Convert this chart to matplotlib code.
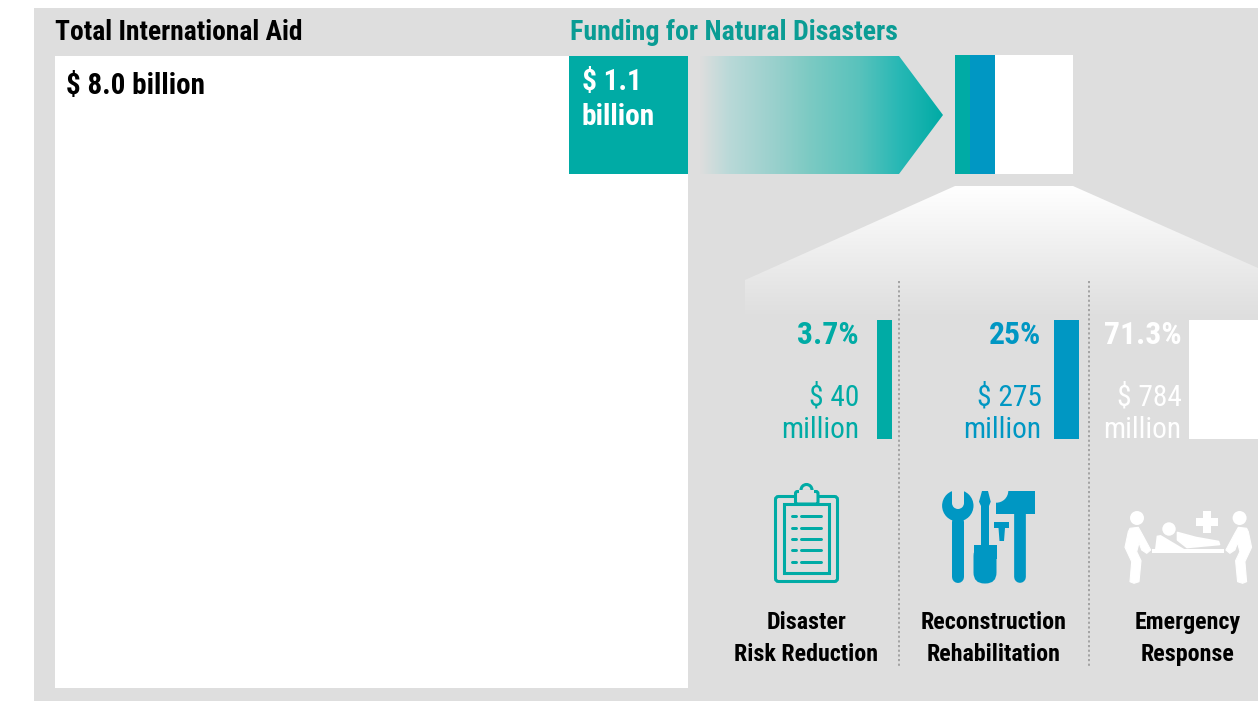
import numpy as np
import matplotlib
matplotlib.use('Agg')
import matplotlib.pyplot as plt
from matplotlib.colors import LinearSegmentedColormap
from matplotlib.patches import Circle, FancyBboxPatch, Polygon, Rectangle

plt.rcParams['font.family'] = 'Roboto Condensed'

TEAL = '#00ABA5'
TEAL_DARK = '#0A9C94'
BLUE = '#0097C3'
GREY = '#DEDEDE'

# Funding totals, in billions
total_aid = 8.0
disaster_funding = 1.1

# Breakdown of the disaster funding
categories = [['Disaster', 'Risk Reduction'], ['Reconstruction', 'Rehabilitation'], ['Emergency', 'Response']]
shares = [3.7, 25, 71.3]
amounts = [40, 275, 784]
share_labels = ['3.7%', '25%', '71.3%']
amount_labels = ['$ 40', '$ 275', '$ 784']

fig = plt.figure(figsize=(12.58, 7.02), dpi=100)
ax = fig.add_axes([0, 0, 1, 1])
ax.set_xlim(0, 1258)
ax.set_ylim(702, 0)
ax.axis('off')


# The graphic uses eased widths so the small shares stay readable
def share_width(share):
    return np.interp(share, [3.7, 25, 71.3], [15, 25.3, 78])


def square_side(value):
    return np.interp(value, [1.1, 8.0], [118.6, 632.6])


def rect(x, y, w, h, color, zorder=2):
    ax.add_patch(Rectangle((x, y), w, h, facecolor=color, edgecolor='none', zorder=zorder))


def gradient(colors, extent, clip_points, horizontal, stops=None):
    cmap = LinearSegmentedColormap.from_list('fade', colors if stops is None else list(zip(stops, colors)))
    ramp = np.linspace(0, 1, 256)
    ramp = ramp.reshape(1, -1) if horizontal else ramp.reshape(-1, 1)
    im = ax.imshow(ramp, cmap=cmap, extent=extent, aspect='auto', zorder=1, interpolation='bilinear')
    clip = Polygon(clip_points, closed=True, transform=ax.transData, facecolor='none', edgecolor='none')
    ax.add_patch(clip)
    im.set_clip_path(clip)


def thick_line(xs, ys, color, width, zorder=3):
    ax.plot(xs, ys, color=color, lw=width * 0.72, solid_capstyle='round', solid_joinstyle='round', zorder=zorder)


# Background panel and the two squares
rect(34, 8, 1224, 693, GREY, zorder=0)
big = square_side(total_aid)
small = square_side(disaster_funding)
rect(55.2, 55.6, big, big, 'white', zorder=1)
rect(55.2 + big - small, 55.6, small, small, TEAL, zorder=2)

# Arrow between the square and the stacked bar
gradient([GREY, '#B9D9D8', '#95CFCB', '#7CCAC3', '#58C2BC', '#28B8B5', TEAL], (700, 943, 174, 56),
         [(700, 56), (899, 56), (943, 115), (899, 174), (700, 174)], True,
         stops=[0, 0.12, 0.33, 0.45, 0.66, 0.82, 1])

# Stacked bar, same colours as the columns below
bar_colors = [TEAL, BLUE, 'white']
left = 955
for share, color in zip(shares, bar_colors):
    rect(left, 55, share_width(share), 119, color)
    left += share_width(share)

# Funnel that opens from the stacked bar to the columns
gradient(['white', '#E6E6E6', GREY], (745, 1258, 318, 186),
         [(955, 186), (1073, 186), (1258, 268), (1258, 318), (745, 318), (745, 280)], False, stops=[0, 0.75, 1])
ax.set_xlim(0, 1258)
ax.set_ylim(702, 0)

# Dotted column separators
for x in [898.5, 1088.5]:
    ax.plot([x, x], [281, 666], color='#A3A3A3', lw=1.4, ls=(0, (1.1, 1.3)), zorder=2)

# Titles
ax.text(55, 33, 'Total International Aid', fontsize=19.8, fontweight='bold', color='black', va='center', ha='left')
ax.text(570.5, 33, 'Funding for Natural Disasters', fontsize=20.1, fontweight='bold', color=TEAL_DARK, va='center', ha='left')
ax.text(66.5, 86, '$ 8.0 billion', fontsize=21, fontweight='bold', color='black', va='center', ha='left')
ax.text(581.5, 82, '$ 1.1', fontsize=21.2, fontweight='bold', color='white', va='center', ha='left', zorder=3)
ax.text(581.5, 117, 'billion', fontsize=21.2, fontweight='bold', color='white', va='center', ha='left', zorder=3)

# Columns: share, amount, bar
bar_lefts = [877, 1053.5, 1189]
text_rights = [859, 1041.5, 1181.5]
column_colors = [TEAL, BLUE, 'white']
for i in range(3):
    c = column_colors[i]
    rect(bar_lefts[i], 320, share_width(shares[i]), 119, c)
    ax.text(text_rights[i], 335.5, share_labels[i], fontsize=22.8, fontweight='bold', color=c, ha='right', va='center', zorder=3)
    ax.text(text_rights[i], 398, amount_labels[i], fontsize=21.2, fontweight=400, color=c, ha='right', va='center', zorder=3)
    ax.text(text_rights[i], 430, 'million', fontsize=21.2, fontweight=400, color=c, ha='right', va='center', zorder=3)

# Category names
name_centers = [806.5, 994, 1187.5]
for cx, lines in zip(name_centers, categories):
    ax.text(cx, 622.5, lines[0], fontsize=17.3, fontweight='bold', color='black', ha='center', va='center')
    ax.text(cx, 654.5, lines[1], fontsize=17.3, fontweight='bold', color='black', ha='center', va='center')

# Clipboard icon
ax.add_patch(FancyBboxPatch((775.5, 496.5), 62, 85, boxstyle='round,pad=0,rounding_size=3',
                            facecolor='none', edgecolor=TEAL, lw=2.2, zorder=3))
ax.add_patch(Rectangle((784, 504), 45, 69, facecolor='none', edgecolor=TEAL, lw=2.2, zorder=3))
ax.add_patch(Circle((806.5, 490), 5.5, facecolor=GREY, edgecolor=TEAL, lw=2.2, zorder=3))
ax.add_patch(FancyBboxPatch((795.5, 491.5), 22.5, 12.5, boxstyle='round,pad=0,rounding_size=2',
                            facecolor=GREY, edgecolor=TEAL, lw=2.2, zorder=4))
rect(799, 490, 15, 6, GREY, zorder=4)
for y in [516.3, 527.7, 539, 550.3, 561.7]:
    thick_line([792, 796], [y, y], TEAL, 3)
    thick_line([800.5, 821], [y, y], TEAL, 3)

# Tools icon: hammer first so its notch stays behind the screwdriver
rect(996.3, 490.7, 38.7, 23, BLUE)
ax.add_patch(Circle((996.3, 490.7), 12, facecolor=GREY, edgecolor='none', zorder=3))
thick_line([1019.8, 1019.8], [514, 577], BLUE, 11.7)
ax.add_patch(Circle((957.8, 505.7), 15.7, facecolor=BLUE, edgecolor='none', zorder=3))
rect(952, 488, 12, 15, GREY, zorder=4)
ax.add_patch(Circle((958, 503), 6, facecolor=GREY, edgecolor='none', zorder=4))
thick_line([958, 958], [522, 577], BLUE, 12, zorder=5)
ax.add_patch(Polygon([(982, 491), (988, 491), (990.7, 501.7), (989, 506), (989, 546), (981, 546), (981, 506), (979, 501.7)],
                     facecolor=BLUE, edgecolor='none', zorder=4))
ax.add_patch(FancyBboxPatch((973.5, 545), 23, 38.5, boxstyle='round,pad=0,rounding_size=11',
                            facecolor=BLUE, edgecolor='none', zorder=4))
rect(973.5, 545, 23, 14, BLUE, zorder=4)
ax.add_patch(Polygon([(994, 522), (1009, 522), (1009, 528), (1005, 528), (1004, 541), (999.5, 541), (998.5, 528), (994, 528)],
                     facecolor=BLUE, edgecolor='none', zorder=4))

# Stretcher icon: two carriers mirrored around the patient
carrier = np.array([(1130, 528.3), (1138.3, 527.3), (1141.7, 533.3), (1150.7, 550), (1146.7, 553.3), (1141.7, 550),
                    (1139, 542.7), (1136.7, 551.7), (1141, 560.7), (1139, 581.7), (1134, 583.3), (1130, 581.7),
                    (1131.7, 561.7), (1125, 547.3), (1128.3, 531.7)])
mirrored = carrier.copy()
mirrored[:, 0] = 2376.6 - carrier[:, 0]
for outline in (carrier, mirrored):
    ax.add_patch(Polygon(outline, facecolor='white', edgecolor='white', lw=0.8, joinstyle='round', zorder=3))
ax.add_patch(Circle((1137, 518), 7, facecolor='white', edgecolor='none', zorder=3))
ax.add_patch(Circle((1239.6, 518), 7, facecolor='white', edgecolor='none', zorder=3))
rect(1152, 549.3, 72, 4, 'white')
ax.add_patch(Circle((1169, 529), 6.7, facecolor='white', edgecolor='none', zorder=3))
ax.add_patch(Polygon([(1156.7, 535.7), (1160.7, 535), (1185, 549.5), (1155, 549.5)], facecolor='white', edgecolor='none', zorder=3))
ax.add_patch(Polygon([(1177.5, 532.5), (1196, 537.5), (1218.5, 541.5), (1219.5, 544.5), (1187, 547.5), (1177.5, 540)],
                     facecolor='white', edgecolor='white', lw=1.2, joinstyle='round', zorder=3))
rect(1196, 518.3, 22, 7.4, 'white')
rect(1203.3, 511, 7.4, 22, 'white')

ax.set_xlim(0, 1258)
ax.set_ylim(702, 0)
fig.savefig('out.png', dpi=100)
